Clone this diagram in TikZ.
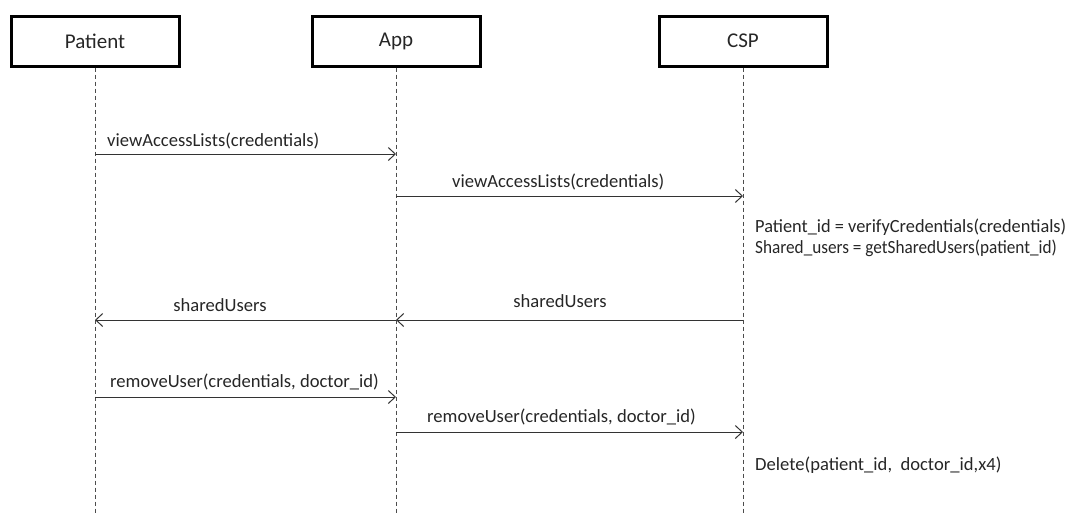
\documentclass[tikz,border=0pt]{standalone}
\usepackage{fontspec}
\setmainfont{Carlito}
\usetikzlibrary{arrows.meta}
\begin{document}
\begin{tikzpicture}[x=1pt,y=-1pt,
  actor/.style={draw=black,line width=3pt,minimum width=168pt,minimum height=50pt,inner sep=0pt,font=\fontsize{21}{24}\selectfont,text=black!85},
  life/.style={draw=black!70,line width=0.9pt,dash pattern=on 4pt off 3pt},
  msg/.style={draw=black!80,line width=1pt,-{Straight Barb[length=7pt,width=13pt,line width=1pt]}},
  lbl/.style={font=\fontsize{18.6}{21}\selectfont,text=black!85,inner sep=0pt}]
\useasboundingbox (0,0) rectangle (1073,515);
\node[actor] (patient) at (95,41) {Patient};
\node[actor] (app) at (396,41) {App};
\node[actor] (csp) at (743,41) {CSP};
\coordinate (pE) at (95,515);
\coordinate (aE) at (396,515);
\coordinate (cE) at (743,515);
\draw[life] (patient.south) -- (pE);
\draw[life] (app.south) -- (aE);
\draw[life] (csp.south) -- (cE);
\coordinate (p1) at (95,154); \coordinate (a1) at (396,154);
\coordinate (a2) at (396,196); \coordinate (c2) at (743,196);
\coordinate (c3) at (743,320); \coordinate (a3) at (396,320); \coordinate (p3) at (95,320);
\coordinate (p4) at (95,397); \coordinate (a4) at (396,397);
\coordinate (a5) at (396,432); \coordinate (c5) at (743,432);
\draw[msg] (p1) -- (a1);
\draw[msg] (a2) -- (c2);
\draw[msg] (c3) -- (a3);
\draw[msg] (a3) -- (p3);
\draw[msg] (p4) -- (a4);
\draw[msg] (a5) -- (c5);
\node[lbl,anchor=west] (l1) at (107,141) {viewAccessLists(credentials)};
\node[lbl,anchor=west] (l2) at (452,182) {viewAccessLists(credentials)};
\node[lbl,anchor=west] (n1) at (755,227) {\scalebox{0.985}[1]{Patient\_id = verifyCredentials(credentials)}};
\node[lbl,anchor=west] (n2) at (755,248) {\scalebox{0.925}[1]{Shared\_users = getSharedUsers(patient\_id)}};
\node[lbl] (l3) at (560,301) {sharedUsers};
\node[lbl] (l4) at (220,305) {sharedUsers};
\node[lbl,anchor=west] (l5) at (110,382) {removeUser(credentials, doctor\_id)};
\node[lbl,anchor=west] (l6) at (427,417) {removeUser(credentials, doctor\_id)};
\node[lbl,anchor=west] (n3) at (755,465) {Delete(patient\_id,\ \ doctor\_id,x4)};
\end{tikzpicture}
\end{document}
